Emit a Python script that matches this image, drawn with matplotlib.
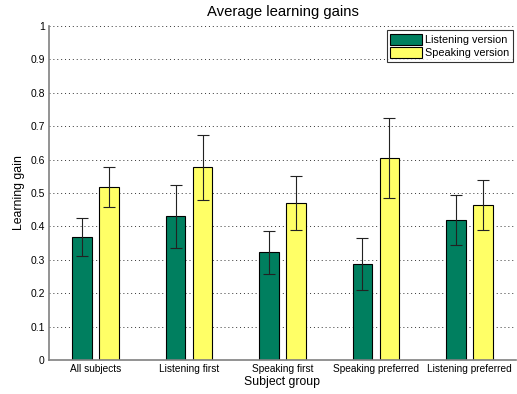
import matplotlib
matplotlib.use("Agg")
import matplotlib.pyplot as plt
import numpy as np

categories = ["All subjects", "Listening first", "Speaking first", "Speaking preferred", "Listening preferred"]
listening = [0.368, 0.430, 0.322, 0.287, 0.418]
listening_err = [0.056, 0.095, 0.065, 0.077, 0.075]
speaking = [0.517, 0.577, 0.470, 0.605, 0.463]
speaking_err = [0.060, 0.097, 0.082, 0.121, 0.075]
series_names = ["Listening version", "Speaking version"]
yticks = [0, 0.1, 0.2, 0.3, 0.4, 0.5, 0.6, 0.7, 0.8, 0.9, 1]

plt.rcParams['font.family'] = ['Liberation Sans', 'DejaVu Sans']

fig = plt.figure(figsize=(5.17, 3.94), dpi=100)
ax = fig.add_axes([49/517, 34/394, 467/517, 334/394])

x = np.arange(1, len(categories) + 1)
w = 0.21
off = 0.145
green = "#007F5F"
yellow = "#FFFF66"
ax.bar(x - off, listening, w, color=green, edgecolor="black", linewidth=0.8, label=series_names[0], zorder=2)
ax.bar(x + off, speaking, w, color=yellow, edgecolor="black", linewidth=0.8, label=series_names[1], zorder=2)
ax.errorbar(x - off, listening, yerr=listening_err, fmt="none", ecolor="#222222", elinewidth=0.8, capsize=4, capthick=0.8, zorder=3)
ax.errorbar(x + off, speaking, yerr=speaking_err, fmt="none", ecolor="#222222", elinewidth=0.8, capsize=4, capthick=0.8, zorder=3)

ax.set_xlim(0.5, 5.5)
ax.set_ylim(0, 1)
ax.set_xticks(x)
ax.set_xticklabels(categories, fontsize=7.3)
ax.set_yticks(yticks)
ax.set_yticklabels([f"{t:g}" for t in yticks], fontsize=7.5)
ax.tick_params(length=0, pad=3)
ax.yaxis.grid(True, linestyle=(0, (1, 3)), color="#333333", linewidth=0.7, zorder=0)
ax.set_axisbelow(True)
for s in ["top", "right"]:
    ax.spines[s].set_visible(False)
for s in ["left", "bottom"]:
    ax.spines[s].set_color("#808080")
    ax.spines[s].set_linewidth(1.2)

ax.set_title("Average learning gains", fontsize=10.7, pad=7)
ax.set_xlabel("Subject group", fontsize=8.8, labelpad=1)
ax.set_ylabel("Learning gain", fontsize=8.8, labelpad=4)

leg = ax.legend(loc="upper right", fontsize=7.8, frameon=True, fancybox=False,
                edgecolor="black", handlelength=2.9, handleheight=1.25,
                borderpad=0.35, labelspacing=0.15, handletextpad=0.3,
                borderaxespad=0, bbox_to_anchor=((513-49)/467, (360-30)/334))
leg.get_frame().set_linewidth(0.8)

fig.savefig("out.png", dpi=100)
